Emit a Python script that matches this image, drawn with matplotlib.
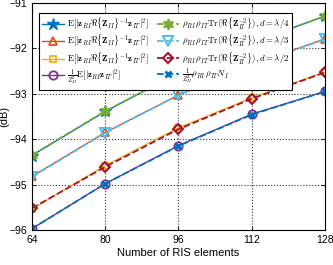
import numpy as np
import matplotlib
matplotlib.use("Agg")
import matplotlib.pyplot as plt

plt.rcParams['mathtext.fontset'] = 'cm'
plt.rcParams['font.family'] = ['Liberation Sans', 'DejaVu Sans']

# number of RIS elements
n_ris = [64, 80, 96, 112, 128]

# simulated (solid)
sim_q4 = [-94.36, -93.39, -92.54, -91.87, -91.29]
sim_q3 = [-94.82, -93.85, -93.03, -92.36, -91.79]
sim_q2 = [-95.54, -94.58, -93.75, -93.09, -92.52]
sim_ind = [-95.97, -94.98, -94.14, -93.45, -92.95]

# analytical (dashed)
ana_q4 = [-94.35, -93.38, -92.55, -91.88, -91.29]
ana_q3 = [-94.83, -93.86, -93.03, -92.37, -91.80]
ana_q2 = [-95.52, -94.61, -93.78, -93.11, -92.53]
ana_ind = [-95.97, -94.98, -94.15, -93.46, -92.95]

lbl_sim = r'$\mathrm{E}[|\mathbf{z}_{RI}\Re\{\mathbf{Z}_{II}\}^{-1}\mathbf{z}_{IT}|^2]$'
lbl_ind = r'$\frac{1}{Z_{II}^2}\mathrm{E}[|\mathbf{z}_{RI}\mathbf{z}_{IT}|^2]$'
lbl_ana = r'$\rho_{RI}\,\rho_{IT}\mathrm{Tr}(\Re\{\mathbf{Z}_{II}^{-2}\}),d=\lambda/%s$'
lbl_ana_ind = r'$\frac{1}{Z_{II}^2}\rho_{RI}\,\rho_{IT}N_I$'

fig = plt.figure(figsize=(3.33, 2.65), dpi=100)
ax = fig.add_axes([0.096, 0.132, 0.880, 0.857])

lw = 1.0
ms = 6
ax.plot(n_ris, sim_q4, '-', color='#0072BD', marker='*', ms=9, lw=lw, label=lbl_sim)
ax.plot(n_ris, sim_q3, '-', color='#D95319', marker='^', ms=ms, mfc='none', mew=1.3, lw=lw, label=lbl_sim)
ax.plot(n_ris, sim_q2, '-', color='#EDB120', marker='s', ms=5, mfc='none', mew=1.3, lw=lw, label=lbl_sim)
ax.plot(n_ris, sim_ind, '-', color='#7E2F8E', marker='o', ms=ms, mfc='none', mew=1.3, lw=lw, label=lbl_ind)
ax.plot(n_ris, ana_q4, '--', color='#77AC30', marker=(6, 1, 0), ms=8, lw=1.3, label=lbl_ana % '4')
ax.plot(n_ris, ana_q3, '--', color='#4DBEEE', marker='v', ms=7, mfc='none', mew=1.5, lw=1.3, label=lbl_ana % '3')
ax.plot(n_ris, ana_q2, '--', color='#A2142F', marker='D', ms=5, mfc='none', mew=1.5, lw=1.3, label=lbl_ana % '2')
ax.plot(n_ris, ana_ind, '--', color='#0072BD', marker='x', ms=4.5, mew=2, lw=1.3, label=lbl_ana_ind)

ax.set_xlim(64, 128)
ax.set_ylim(-96, -91)
ax.set_xticks(n_ris)
ax.set_yticks([-96, -95, -94, -93, -92, -91])
ax.tick_params(direction='in', labelsize=7.5, length=3, width=0.6, top=True, right=True)
ax.grid(True, linestyle=':', color='black', lw=0.8, alpha=0.8)
for s in ax.spines.values():
    s.set_linewidth(0.8)

ax.set_xlabel('Number of RIS elements', fontsize=8, labelpad=2)
ax.set_ylabel('(dB)', fontsize=8, labelpad=0)

leg = ax.legend(loc='upper left', ncol=2, fontsize=6.4, frameon=True, fancybox=False,
                edgecolor='black', framealpha=1, handlelength=2.5, columnspacing=0.9,
                handletextpad=0.3, labelspacing=0.14, borderpad=0.3,
                bbox_to_anchor=(0.01, 0.977))
leg.get_frame().set_linewidth(0.8)

fig.savefig('out.png', dpi=100)
